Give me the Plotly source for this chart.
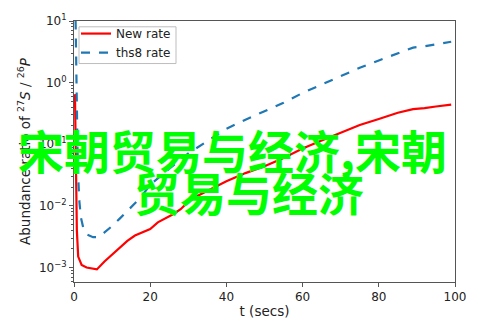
import plotly.graph_objects as go

# ---- data ----
t_new = [0.25, 0.4, 0.55, 0.75, 1.1, 2.0, 3.3, 4.5, 6, 8, 10, 12, 14, 16, 18, 20, 22, 24, 26, 28, 30, 33,
         40, 45, 50, 55, 60, 65, 70, 75, 80, 85, 89, 92, 95, 99]
new_rate = [0.65, 0.12, 0.015, 0.004, 0.0015, 0.0011, 0.001, 0.00097, 0.00093, 0.00125, 0.0016, 0.0021,
            0.0027, 0.0033, 0.0037, 0.0042, 0.0054, 0.0063, 0.0073, 0.0088, 0.0117, 0.0151,
            0.025, 0.034, 0.044, 0.060, 0.085, 0.115, 0.155, 0.205, 0.257, 0.324, 0.372, 0.385, 0.41, 0.44]

t_ths8 = [0.35, 0.5, 0.7, 0.9, 1.1, 1.4, 1.8, 2.5, 3.5, 5, 6, 7, 8, 10, 12, 14, 16, 18, 20, 25, 30, 35,
          40, 45, 50, 55, 60, 65, 70, 75, 80, 85, 89, 92, 95, 99]
ths8_rate = [20, 3, 0.5, 0.1, 0.03, 0.012, 0.0065, 0.0042, 0.0034, 0.0031, 0.0031, 0.0033, 0.0037,
             0.0047, 0.0062, 0.0082, 0.011, 0.015, 0.022, 0.04, 0.071, 0.112, 0.178, 0.25, 0.34,
             0.47, 0.68, 0.93, 1.29, 1.74, 2.29, 3.02, 3.7, 3.9, 4.2, 4.6]

y_tickvals = [1e-3, 1e-2, 1e-1, 1e0, 1e1]
y_ticktext = ["10<sup>\u22123</sup>", "10<sup>\u22122</sup>", "10<sup>\u22121</sup>",
              "10<sup>0</sup>", "10<sup>1</sup>"]
x_tickvals = [0, 20, 40, 60, 80, 100]

overlay_line1 = "宋朝贸易与经济,宋朝"
overlay_line2 = "贸易与经济"

minor_vals = [m * 10 ** e for e in range(-4, 1) for m in range(2, 10)]

fig = go.Figure()
fig.add_trace(go.Scatter(x=t_new, y=new_rate, mode="lines", name="New rate",
                         line=dict(color="#ff0000", width=2.2)))
fig.add_trace(go.Scatter(x=t_ths8, y=ths8_rate, mode="lines", name="ths8 rate",
                         line=dict(color="#1f77b4", width=2.2, dash="dash")))

axis_col = "#555555"
L, R, T, B = 74, 38, 17, 42
W, H = 493, 329
pw, ph = W - L - R, H - T - B


def px_x(p):
    return (p - L) / pw


def px_y(p):
    return (H - B - p) / ph


fig.update_layout(
    width=W, height=H,
    margin=dict(l=L, r=R, t=T, b=B),
    paper_bgcolor="white", plot_bgcolor="white",
    font=dict(family="DejaVu Sans", size=12, color="#222222"),
    showlegend=True,
    legend=dict(x=px_x(76), y=px_y(15), xanchor="left", yanchor="top",
                bgcolor="rgba(0,0,0,0)", borderwidth=0,
                font=dict(size=12), tracegroupgap=0),
    xaxis=dict(range=[0, 100], tickmode="array", tickvals=x_tickvals,
               showgrid=False, zeroline=False, showline=True, linecolor=axis_col, linewidth=1,
               mirror=True, ticks="outside", ticklen=4, tickcolor=axis_col,
               tickfont=dict(size=12),
               title=dict(text="t (secs)", standoff=3, font=dict(size=13.5))),
    yaxis=dict(type="log", range=[-3.236, 1.0], tickmode="array", tickvals=y_tickvals,
               ticktext=y_ticktext, showgrid=False, zeroline=False, showline=True,
               linecolor=axis_col, linewidth=1, mirror=True, ticks="outside", ticklen=4,
               tickcolor=axis_col, tickfont=dict(size=12),
               minor=dict(tickmode="array", tickvals=minor_vals, ticks="outside", ticklen=2,
                          tickcolor=axis_col, showgrid=False),
               title=dict(text="Abundance ratio of <sup>27</sup><i>S</i> / <sup>26</sup><i>P</i>",
                          standoff=5, font=dict(size=13.5))),
)

fig.add_shape(type="rect", xref="x domain", yref="y domain",
              x0=px_x(79), x1=px_x(176), y0=px_y(61), y1=px_y(23),
              fillcolor="white", opacity=1.0,
              line=dict(color="#bdbdbd", width=1), layer="above")

fig.add_annotation(text=overlay_line1, xref="paper", yref="paper", x=px_x(232.5), y=px_y(149),
                   xanchor="center", yanchor="middle", showarrow=False,
                   font=dict(family="Noto Sans CJK SC", size=46, color="#00ff00", weight="bold"))
fig.add_annotation(text=overlay_line2, xref="paper", yref="paper", x=px_x(248.5), y=px_y(193),
                   xanchor="center", yanchor="middle", showarrow=False,
                   font=dict(family="Noto Sans CJK SC", size=46, color="#00ff00", weight="bold"))

fig.write_html("out.html")
